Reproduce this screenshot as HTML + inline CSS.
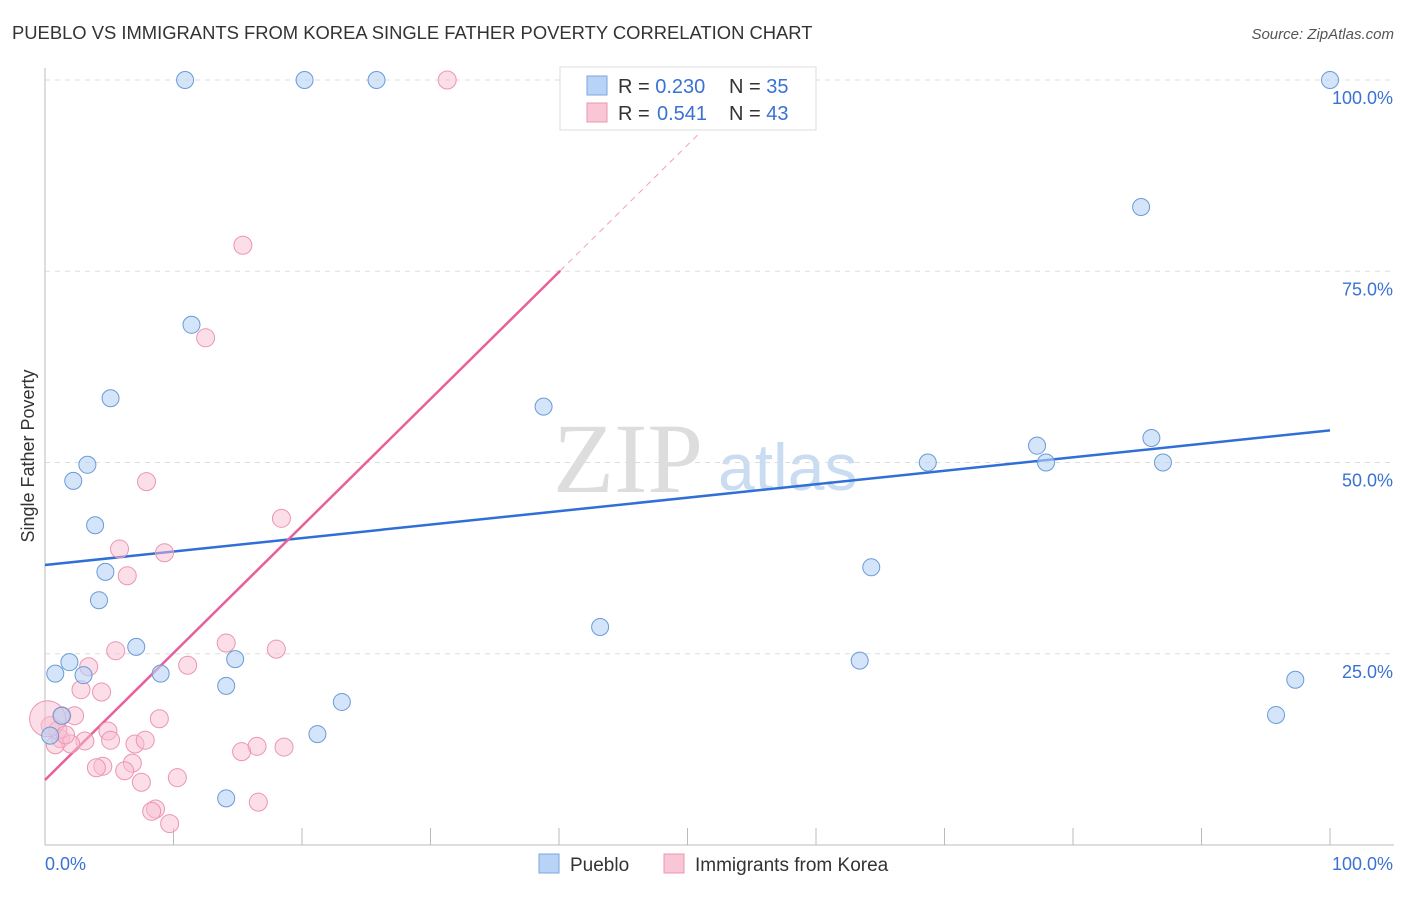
<!DOCTYPE html>
<html><head><meta charset="utf-8"><style>
body{margin:0;background:#fff;font-family:"Liberation Sans",sans-serif}
</style></head><body>
<svg id="c" width="1406" height="892" font-family="Liberation Sans, sans-serif">
<text x="12" y="39" font-size="18.4" fill="#333">PUEBLO VS IMMIGRANTS FROM KOREA SINGLE FATHER POVERTY CORRELATION CHART</text>
<text x="1394" y="39" font-size="15" fill="#555" font-style="italic" text-anchor="end">Source: ZipAtlas.com</text>
<text x="34" y="456" font-size="18" fill="#333" text-anchor="middle" transform="rotate(-90 34 456)">Single Father Poverty</text>
<text x="553" y="492" font-size="100" fill="#ddd" style="font-family:'Liberation Serif',serif">ZIP</text>
<text x="718" y="490" font-size="66" fill="#c9dcf2">atlas</text>
<g id="grid"></g><g id="lines"></g><g id="pts"></g>
<g>
<rect x="560" y="67" width="256" height="63" fill="#fff" stroke="#ddd"/>
<rect x="587" y="76" width="20" height="19" fill="#b8d3f5" stroke="#7aa7e0"/>
<rect x="587" y="103" width="20" height="19" fill="#f8c6d5" stroke="#ec95b1"/>
<text x="618" y="93" font-size="20" fill="#333">R = <tspan fill="#3a72d2">0.230</tspan><tspan x="729">N = </tspan><tspan fill="#3a72d2">35</tspan></text>
<text x="618" y="120" font-size="20" fill="#333">R = <tspan x="657" fill="#3a72d2">0.541</tspan><tspan x="729">N = </tspan><tspan fill="#3a72d2">43</tspan></text>
</g>
<g>
<rect x="539" y="854" width="20" height="19" fill="#b8d3f5" stroke="#7aa7e0"/>
<text x="570" y="871" font-size="19" fill="#333">Pueblo</text>
<rect x="664" y="854" width="20" height="19" fill="#f8c6d5" stroke="#ec95b1"/>
<text x="695" y="871" font-size="19" fill="#333">Immigrants from Korea</text>
</g>
</svg>
<script>
const yTicks=[25,50,75,100];
const blueX=[10.9,20.2,25.8,100,85.3,11.4,5.1,38.8,3.3,2.2,3.9,86.1,77.2,68.7,77.9,87.0,4.7,4.2,64.3,7.1,43.2,1.9,0.8,3.0,9.0,14.8,14.1,63.4,97.3,23.1,95.8,1.3,0.4,21.2,14.1];
const blueY=[100,100,100,100,83.4,68.0,58.4,57.3,49.7,47.6,41.8,53.2,52.2,50.0,50.0,50.0,35.7,32.0,36.3,25.9,28.5,23.9,22.4,22.2,22.4,24.3,20.8,24.1,21.6,18.7,17.0,16.9,14.3,14.5,6.1];
const pinkX=[31.3,15.4,12.5,7.9,18.4,5.8,9.3,6.4,14.1,18.0,5.5,11.1,3.4,2.8,4.4,8.9,2.3,1.3,0.4,4.9,3.1,7.0,1.2,2.0,7.8,5.1,18.6,16.5,15.3,6.8,4.5,4.0,6.2,10.3,7.5,16.6,8.6,8.3,9.7,0.8,1.0,0.2,1.6];
const pinkY=[100,78.4,66.3,47.5,42.7,38.7,38.2,35.2,26.4,25.6,25.4,23.5,23.3,20.3,20.0,16.5,16.9,16.9,15.6,14.9,13.6,13.2,13.9,13.2,13.7,13.7,12.8,12.9,12.2,10.7,10.3,10.1,9.7,8.8,8.2,5.6,4.7,4.4,2.8,13.1,15.0,16.5,14.4];
const pinkR=[9,9,9,9,9,9,9,9,9,9,9,9,9,9,9,9,9,9,9,9,9,9,9,9,9,9,9,9,9,9,9,9,9,9,9,9,9,9,9,9,9,18,9];
const blueLine=[36.6,54.2];
const pinkLine=[8.5,1.66];
const X=v=>45+v*12.85, Y=v=>845-v*7.65;
const NS="http://www.w3.org/2000/svg";
function mk(parent,tag,attrs){const e=document.createElementNS(NS,tag);for(const k in attrs)e.setAttribute(k,attrs[k]);document.getElementById(parent).appendChild(e);return e;}
yTicks.forEach(t=>{
 const l=mk('grid','line',{x1:45,x2:1394,y1:Y(t),y2:Y(t),stroke:'#ddd','stroke-dasharray':'5,5'});
 
 
 const tx=mk('grid','text',{x:1393,y:Y(t)+24,'font-size':18,fill:'#3a72d2','text-anchor':'end'});
 tx.textContent=t.toFixed(1)+'%';
 
 
});
const ax=mk('grid','line',{x1:45,x2:45,y1:68,y2:845,stroke:'#bbb'});


const bx=mk('grid','line',{x1:45,x2:1394,y1:845,y2:845,stroke:'#bbb'});


for(let i=0;i<=10;i++){const t=mk('grid','line',{x1:X(i*10),x2:X(i*10),y1:828,y2:845,stroke:'#bbb'});
 
 }
[[0,'start',45,'0.0%'],[100,'end',1393,'100.0%']].forEach(a=>{const t=mk('grid','text',{x:a[2],y:870,'font-size':18,fill:'#3a72d2','text-anchor':a[1]});t.textContent=a[3];
 
 });
const bl=mk('lines','line',{x1:X(0),y1:Y(blueLine[0]),x2:X(100),y2:Y(blueLine[1]),stroke:'#2f6fd6','stroke-width':2.5});


const pe=40.1, pd=51;
const pl=mk('lines','line',{x1:X(0),y1:Y(pinkLine[0]),x2:X(pe),y2:Y(pinkLine[0]+pinkLine[1]*pe),stroke:'#e8609a','stroke-width':2.5});


const pdl=mk('lines','line',{x1:X(pe),y1:Y(pinkLine[0]+pinkLine[1]*pe),x2:X(pd),y2:Y(pinkLine[0]+pinkLine[1]*pd),stroke:'#f0a0c0','stroke-width':1,'stroke-dasharray':'6,5'});


pinkX.forEach((x,i)=>{const c=mk('pts','circle',{cx:X(x),cy:Y(pinkY[i]),r:pinkR[i],fill:'rgba(248,190,210,0.5)',stroke:'#ec95b1','stroke-width':1});
 
 });
blueX.forEach((x,i)=>{const c=mk('pts','circle',{cx:X(x),cy:Y(blueY[i]),r:8.5,fill:'rgba(184,211,245,0.6)',stroke:'#6a9ad8','stroke-width':1});
 
 });
</script>
</body></html>
